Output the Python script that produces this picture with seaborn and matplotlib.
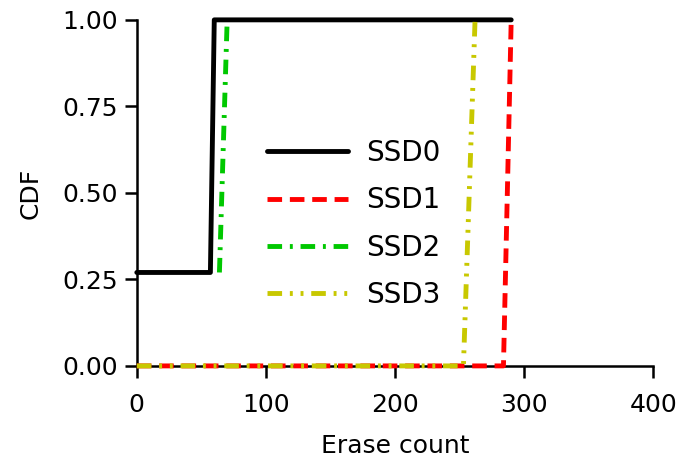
import seaborn as sns
import matplotlib.pyplot as plt
import pandas as pd

# erase count CDF per SSD
ssd0_x = [0, 57, 60, 290]
ssd0_y = [0.27, 0.27, 1.0, 1.0]
ssd1_x = [0, 284, 290]
ssd1_y = [0.0, 0.0, 1.0]
ssd2_x = [64, 70]
ssd2_y = [0.27, 1.0]
ssd3_x = [0, 253, 262]
ssd3_y = [0.0, 0.0, 1.0]

labels = ['SSD0', 'SSD1', 'SSD2', 'SSD3']
colors = ['#000000', '#ff0000', '#00c800', '#c8c800']
styles = ['-', (0, (3, 1.6)), (0, (3, 1.6, 0.6, 1.6)), (0, (3, 1.6, 0.6, 1.6, 0.6, 1.6))]

series = [(ssd0_x, ssd0_y), (ssd1_x, ssd1_y), (ssd2_x, ssd2_y), (ssd3_x, ssd3_y)]

sns.set_style('ticks', {'axes.edgecolor': 'black', 'xtick.color': 'black',
                        'ytick.color': 'black', 'text.color': 'black',
                        'axes.labelcolor': 'black'})
plt.rcParams['font.family'] = ['DejaVu Sans']

fig, ax = plt.subplots(figsize=(6.84, 4.62), dpi=100)
fig.subplots_adjust(left=0.2, right=0.955, top=0.957, bottom=0.208)

for (xs, ys), lab, col, ls in zip(series, labels, colors, styles):
    df = pd.DataFrame({'x': xs, 'y': ys})
    sns.lineplot(data=df, x='x', y='y', ax=ax, color=col, linestyle=ls,
                 linewidth=3.5, label=lab, clip_on=False, zorder=3)

ax.set_xlim(0, 400)
ax.set_ylim(0, 1)
ax.set_xticks([0, 100, 200, 300, 400])
ax.set_yticks([0, 0.25, 0.5, 0.75, 1.0])
ax.set_yticklabels(['0.00', '0.25', '0.50', '0.75', '1.00'])
ax.set_xlabel('Erase count', fontsize=18, labelpad=12)
ax.set_ylabel('CDF', fontsize=18, labelpad=14)
ax.tick_params(labelsize=18, width=1.8, length=8.5, direction='out')
ax.tick_params(axis='x', pad=11)
ax.tick_params(axis='y', pad=5)
for s in ['left', 'bottom']:
    ax.spines[s].set_linewidth(1.8)
sns.despine(ax=ax)

ax.legend(loc='center', bbox_to_anchor=(0.42, 0.41), frameon=False,
          fontsize=20, handlelength=2.9, labelspacing=0.7, handletextpad=0.65)

fig.savefig('out.png', dpi=100)
